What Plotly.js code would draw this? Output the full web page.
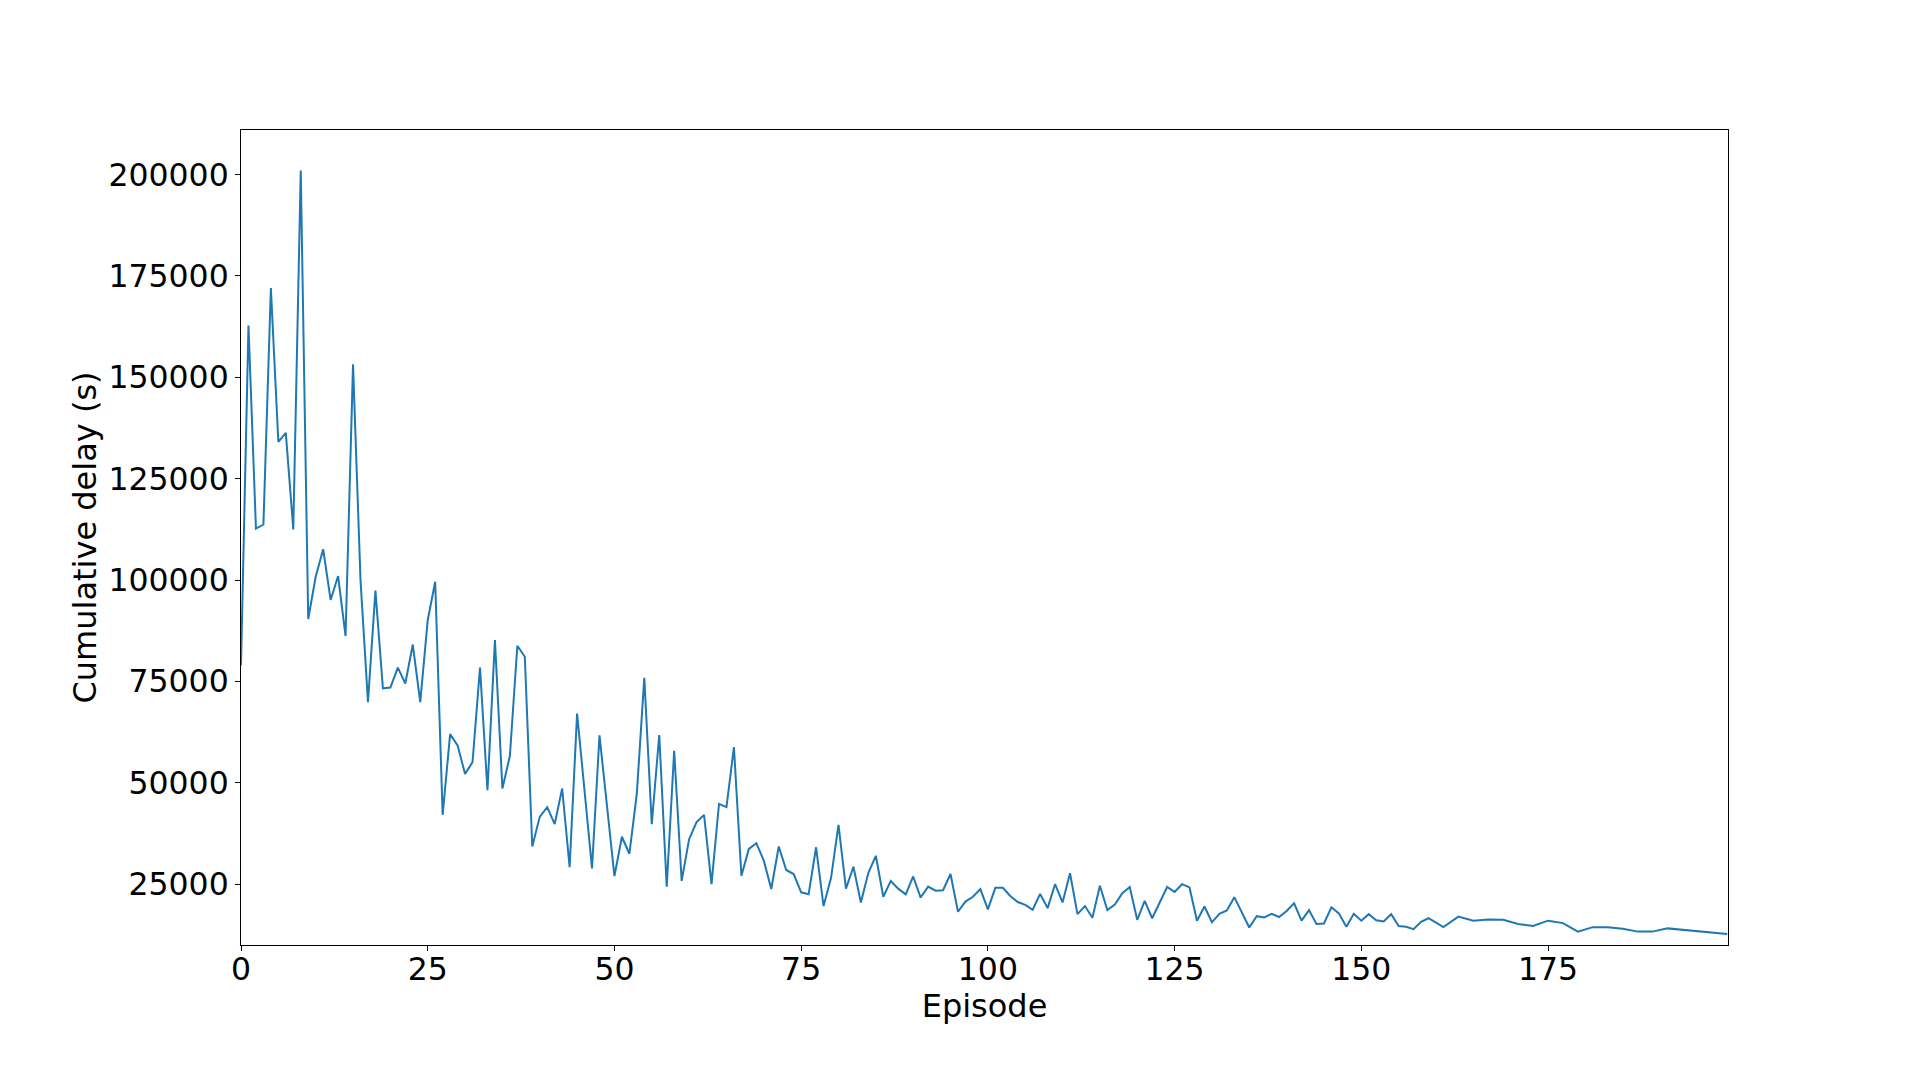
<!DOCTYPE html>
<html>
<head>
<meta charset="utf-8">
<script src="https://cdn.plot.ly/plotly-3.0.1.min.js"></script>
<style>
  html, body { margin: 0; padding: 0; background: #ffffff; }
  #chart { width: 1920px; height: 1080px; }
</style>
</head>
<body>
<div id="chart"></div>
<script>
// Episode indices of the plotted vertices
const episodes = [
  0,1,2,3,4,5,6,7,8,9,10,11,12,13,14,15,16,17,18,19,20,21,22,23,24,25,26,27,28,29,
  30,31,32,33,34,35,36,37,38,39,40,41,42,43,44,45,47,48,50,51,52,53,54,55,56,57,58,59,
  60,61,62,63,64,65,66,67,68,69,70,71,72,73,74,75,76,77,78,79,80,81,82,83,84,85,86,87,88,89,
  90,91,92,93,94,95,96,97,98,99,100,101,102,103,104,105,106,107,108,109,110,111,112,113,114,
  115,116,117,118,119,120,121,122,123,124,125,126,127,128,129,130,131,132,133,135,136,137,138,
  139,140,141,142,143,144,145,146,147,148,149,150,151,152,153,154,155,156,157,158,159,
  161,163,165,167,169,171,173,175,177,179,181,183,185,187,189,191,199
];

// Cumulative delay (s) per episode
const cumulativeDelay = [
  79000,162800,112700,113700,172000,134100,136300,112500,201000,90400,100800,107600,95100,101000,86200,
  153200,100000,69900,97400,73300,73500,78400,74500,84100,69900,90100,99600,42100,62000,59200,
  52200,55100,78400,48200,85200,48600,56600,83800,81100,34300,41600,44000,39800,48600,29200,67100,
  28900,61700,27000,36700,32500,47400,75900,39800,61800,24400,57900,25800,
  36100,40300,42100,25000,44800,44000,58800,27100,33700,35100,30800,23800,34300,28500,27500,23000,
  22500,34100,19600,26500,39600,23900,29300,20500,27800,32000,21900,25800,23900,22500,
  26900,21700,24400,23400,23500,27500,18200,20700,21900,23800,18800,24100,24100,22100,20600,19900,
  18700,22600,19100,25000,20500,27700,17600,19600,16700,
  24600,18600,20000,22800,24300,16200,20900,16600,20500,24300,23100,25000,24200,16000,19500,15600,
  17700,18500,21800,14300,17100,16800,17700,
  16900,18400,20300,16000,18600,15200,15300,19300,17800,14500,17700,16000,17600,16100,15800,17600,
  14700,14500,13900,15700,16600,
  14400,17000,16000,16300,16200,15200,14700,16000,15400,13300,14400,14400,14000,13300,13300,14100,12700
];

const xTickVals = [0, 25, 50, 75, 100, 125, 150, 175];
const yTickVals = [25000, 50000, 75000, 100000, 125000, 150000, 175000, 200000];

const trace = {
  x: episodes,
  y: cumulativeDelay,
  type: 'scatter',
  mode: 'lines',
  line: { color: '#1f77b4', width: 2 },
  hoverinfo: 'x+y'
};

const tickFont = { family: 'DejaVu Sans, sans-serif', size: 31.5, color: '#000000' };
const titleFont = { family: 'DejaVu Sans, sans-serif', size: 32, color: '#000000' };

const layout = {
  width: 1920,
  height: 1080,
  paper_bgcolor: '#ffffff',
  plot_bgcolor: '#ffffff',
  showlegend: false,
  margin: { l: 241, r: 192, t: 130, b: 135, pad: 0 },
  font: titleFont,
  xaxis: {
    range: [0, 199.1],
    tickmode: 'array',
    tickvals: xTickVals,
    ticktext: xTickVals.map(String),
    ticks: 'outside',
    ticklen: 5,
    tickwidth: 1,
    tickcolor: '#000000',
    ticklabelstandoff: -9,
    showgrid: false,
    zeroline: false,
    showline: true,
    linecolor: '#000000',
    linewidth: 1,
    mirror: true,
    tickfont: tickFont,
    title: { text: 'Episode', font: titleFont, standoff: 5 }
  },
  yaxis: {
    range: [10000, 211000],
    tickmode: 'array',
    tickvals: yTickVals,
    ticktext: yTickVals.map(String),
    ticks: 'outside',
    ticklen: 5,
    tickwidth: 1,
    tickcolor: '#000000',
    showgrid: false,
    zeroline: false,
    showline: true,
    linecolor: '#000000',
    linewidth: 1,
    mirror: true,
    tickfont: tickFont,
    title: { text: 'Cumulative delay (s)', font: titleFont, standoff: 2 }
  }
};

Plotly.newPlot('chart', [trace], layout, { displayModeBar: false, staticPlot: true });
</script>
</body>
</html>
